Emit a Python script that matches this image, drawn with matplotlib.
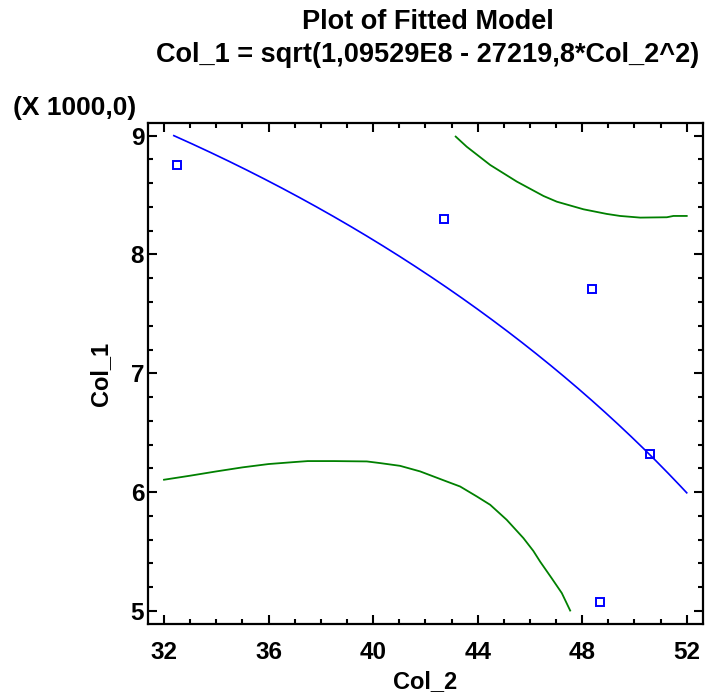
import numpy as np
import matplotlib
matplotlib.use("Agg")
import matplotlib.pyplot as plt
from matplotlib.ticker import MultipleLocator, FuncFormatter

plt.rcParams['font.family'] = ['Liberation Sans', 'DejaVu Sans']

# Observed data
col2_obs = [32.49, 42.70, 48.38, 50.60, 48.69]
col1_obs = [8751, 8296, 7707, 6323, 5078]

# Fitted model: Col_1 = sqrt(a - b*Col_2^2)
coef_a = 1.09529e8
coef_b = 27219.8

# Upper prediction limit
upper_x = [43.16, 43.58, 44.48, 45.50, 46.52, 47.03, 48.05, 48.94, 49.45,
           50.22, 51.24, 51.49, 52.0]
upper_y = [8992, 8907, 8753, 8613, 8492, 8444, 8380, 8341, 8324,
           8310, 8313, 8324, 8324]

# Lower prediction limit
lower_x = [32.0, 33.0, 34.0, 35.0, 36.0, 37.0, 37.5, 38.5, 39.76, 40.27,
           41.03, 41.80, 42.82, 43.33, 43.97, 44.48, 45.11, 45.75, 46.13,
           46.39, 46.83, 47.22, 47.54]
lower_y = [6104, 6138, 6174, 6208, 6236, 6253, 6261, 6261, 6258, 6244,
           6221, 6174, 6089, 6047, 5963, 5893, 5767, 5613, 5505,
           5415, 5276, 5150, 5003]

x_ticks = [32, 36, 40, 44, 48, 52]
y_ticks = [5000, 6000, 7000, 8000, 9000]

fig = plt.figure(figsize=(7.06, 7.0), dpi=100)
ax = fig.add_axes([0.2101, 0.1086, 0.7852, 0.7153])

xf = np.linspace(32, 52, 800)
yf = np.sqrt(coef_a - coef_b * xf ** 2)
yf = np.where(yf <= 9000, yf, np.nan)
ax.plot(xf, yf, color='#0000FF', lw=1.2)

ax.plot(upper_x, upper_y, color='#008000', lw=1.3)
ax.plot(lower_x, lower_y, color='#008000', lw=1.3)

ax.plot(col2_obs, col1_obs, linestyle='none', marker='s', markersize=5.6,
        markerfacecolor='none', markeredgecolor='#0000FF', markeredgewidth=1.4)

ax.set_xlim(31.4, 52.61)
ax.set_ylim(4890, 9104)
ax.set_xticks(x_ticks)
ax.set_yticks(y_ticks)
ax.xaxis.set_minor_locator(MultipleLocator(1))
ax.yaxis.set_minor_locator(MultipleLocator(200))
ax.yaxis.set_major_formatter(FuncFormatter(lambda v, p: f"{v/1000:g}"))

for s in ax.spines.values():
    s.set_linewidth(1.6)
ax.tick_params(which='both', direction='in', top=True, right=True, width=1.5,
               labelsize=17.5)
ax.tick_params(which='major', length=6.5)
ax.tick_params(which='minor', length=3.6)
ax.tick_params(axis='x', which='major', pad=12)
ax.tick_params(axis='y', which='major', pad=3)
for lab in ax.get_xticklabels() + ax.get_yticklabels():
    lab.set_fontweight('bold')

ax.set_xlabel('Col_2', fontsize=17, fontweight='bold')
ax.set_ylabel('Col_1', fontsize=17, fontweight='bold')
ax.xaxis.set_label_coords(0.5, -0.093)
ax.yaxis.set_label_coords(-0.0655, 0.5)

fig.text(0.606, 0.9686, 'Plot of Fitted Model', ha='center', va='center',
         fontsize=19.5, fontweight='bold')
fig.text(0.606, 0.922, 'Col_1 = sqrt(1,09529E8 - 27219,8*Col_2^2)',
         ha='center', va='center', fontsize=19.5, fontweight='bold')
fig.text(0.018, 0.846, '(X 1000,0)', ha='left', va='center',
         fontsize=19, fontweight='bold')

fig.savefig('out.png', dpi=100)
